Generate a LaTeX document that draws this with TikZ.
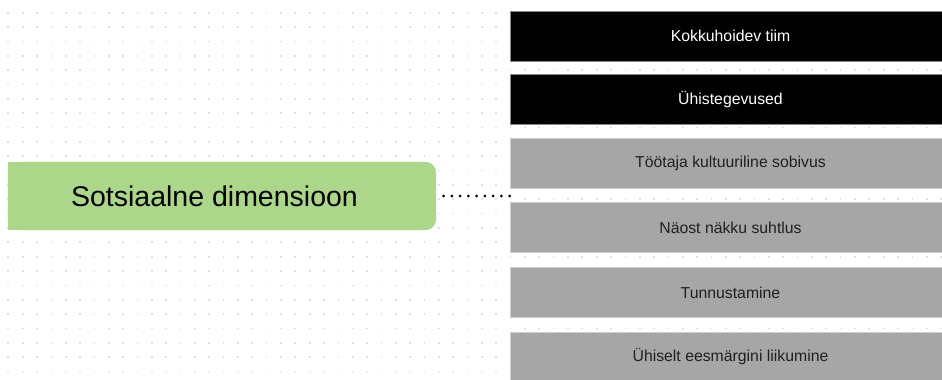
\documentclass[tikz,border=0pt]{standalone}
\usepackage{fontspec}
\setmainfont{Liberation Sans}
\pgfdeclarelayer{grid}
\pgfdeclarelayer{bg}
\pgfsetlayers{grid,bg,main}
\definecolor{leafgreen}{HTML}{ACD78A}
\definecolor{itemgray}{HTML}{A6A6A6}
\definecolor{itemedge}{HTML}{CFCFCF}
\definecolor{darkedge}{HTML}{8A8A8A}
\definecolor{gridgray}{HTML}{E0E0E0}
\definecolor{inktext}{HTML}{202020}
\tikzset{
  itembox/.style={rectangle, minimum width=441pt, minimum height=50pt,
    inner sep=0pt, font=\fontsize{15.8}{18}\selectfont, line width=0.8pt},
  darkitem/.style={itembox, fill=black, draw=darkedge, text=white},
  grayitem/.style={itembox, fill=itemgray, draw=itemedge, text=inktext},
  topic/.style={rectangle, minimum width=428pt, minimum height=68pt,
    inner sep=0pt, font=\fontsize{28.5}{32}\selectfont, text=black},
  dotlink/.style={line width=3pt, line cap=round, dash pattern=on 0pt off 8.25pt},
}
\begin{document}
\begin{tikzpicture}[x=1pt, y=-1pt]
  \useasboundingbox (0,0) rectangle (942,380);
  \clip (0,0) rectangle (942,380);

  % dotted canvas grid
  \begin{pgfonlayer}{grid}
    \fill[white] (0,0) rectangle (942,380);
    \foreach \i in {0,...,65} {
      \foreach \j in {0,...,26} {
        \fill[gridgray] ({8.3+14.35*\i-0.85},{12.7+14.35*\j-0.85}) rectangle ++(1.7,1.7);
      }
    }
  \end{pgfonlayer}

  % central topic: rounded on the right, square on the left
  \node[topic] (topic) at (222,196) {};
  \node[font=\fontsize{28.5}{32}\selectfont, inner sep=0pt] (topiclabel) at (214.5,196.5) {Sotsiaalne dimensioon};
  \begin{pgfonlayer}{bg}
    \fill[leafgreen, rounded corners=11pt] (topic.north west) rectangle (topic.south east);
    \fill[leafgreen] (topic.north west) rectangle (topic.south);
  \end{pgfonlayer}

  % sub-topics
  \node[darkitem] (s1) at (730.5,36.0) {Kokkuhoidev tiim};
  \node[darkitem] (s2) at (730.5,99.5) {Ühistegevused};
  \node[grayitem] (s3) at (730.5,163.5) {Töötaja kultuuriline sobivus};
  \node[grayitem] (s4) at (730.5,227.5) {Näost näkku suhtlus};
  \node[grayitem] (s5) at (730.5,292.5) {Tunnustamine};
  \node[grayitem] (s6) at (730.5,357.0) {Ühiselt eesmärgini liikumine};

  % link from the topic to the sub-topic stack
  \coordinate (stack) at (509.6,196);
  \draw[dotlink] ([xshift=7.3pt]topic.east) -- (stack);
\end{tikzpicture}
\end{document}
